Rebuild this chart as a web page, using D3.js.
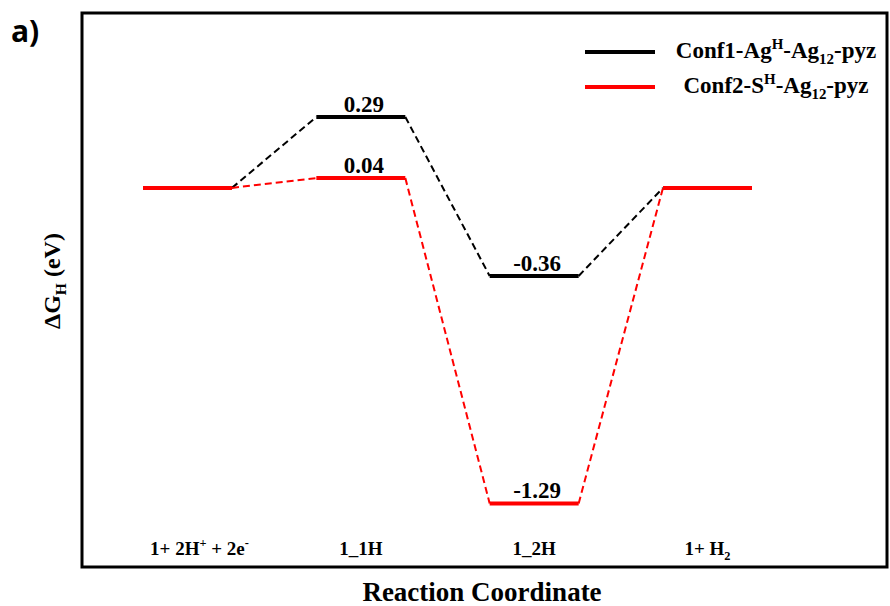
<!DOCTYPE html>
<html>
<head>
<meta charset="utf-8">
<script src="https://cdn.jsdelivr.net/npm/d3@7"></script>
<style>
  body { margin: 0; background: #fff; }
</style>
</head>
<body>
<div id="chart"></div>
<script>
// reaction steps (parts: [text, "sup"|"sub"|undefined])
var steps = ["s0", "s1", "s2", "s3"]
var stepLabels = [
    [["1+ 2H"], ["+", "sup"], [" + 2e"], ["-", "sup"]],
    [["1_1H"]],
    [["1_2H"]],
    [["1+ H"], ["2", "sub"]]
]

// free energies (eV)
var conf1 = [0, 0.29, -0.36, 0]
var conf2 = [0, 0.04, -1.29, 0]
// which levels get a value printed
var showValue = [false, true, true, false]

var seriesNames = [
    [["Conf1-Ag"], ["H", "sup"], ["-Ag"], ["12", "sub"], ["-pyz"]],
    [["Conf2-S"], ["H", "sup"], ["-Ag"], ["12", "sub"], ["-pyz"]]
]
var seriesColors = ["#000000", "#ff0000"]

var W = 890, H = 606
var frame = {left: 82, top: 13, right: 887, bottom: 567}
var serif = "'Liberation Serif', 'Times New Roman', serif"

var svg = d3.select("#chart").append("svg")
    .attr("width", W)
    .attr("height", H)

var x = d3.scalePoint()
    .domain(steps)
    .range([187.5, 707.5])

var y = d3.scaleLinear()
    .domain([-1.55, 0.715])
    .range([frame.bottom, frame.top])

var halfW = 44.5

// write text with sub/superscripts
function richText(sel, parts, size) {
    sel.attr("font-family", serif).attr("font-weight", "bold").attr("font-size", size)
    var shift = 0
    parts.forEach(function (p) {
        var target = 0
        if (p[1] == "sup") target = -size * 0.4
        if (p[1] == "sub") target = size * 0.25
        var t = sel.append("tspan").text(p[0])
            .attr("font-size", p[1] ? size * 0.65 : size)
        if (target != shift) t.attr("dy", target - shift)
        shift = target
    })
}

// frame
svg.append("rect")
    .attr("x", frame.left)
    .attr("y", frame.top)
    .attr("width", frame.right - frame.left)
    .attr("height", frame.bottom - frame.top)
    .attr("fill", "none")
    .attr("stroke", "#000")
    .attr("stroke-width", 3)

var series = [conf1, conf2]

// dashed connectors
series.forEach(function (vals, si) {
    for (var i = 0; i < vals.length - 1; i++) {
        svg.append("line")
            .attr("x1", x(steps[i]) + halfW)
            .attr("y1", y(vals[i]))
            .attr("x2", x(steps[i + 1]) - halfW)
            .attr("y2", y(vals[i + 1]))
            .attr("stroke", seriesColors[si])
            .attr("stroke-width", 2)
            .attr("stroke-dasharray", "7,4")
    }
})

// energy levels
series.forEach(function (vals, si) {
    var pts = vals.map(function (v, i) { return {step: steps[i], v: v, show: showValue[i]} })

    svg.append("g").selectAll("line")
        .data(pts)
        .enter()
        .append("line")
        .attr("x1", function (d) { return x(d.step) - halfW })
        .attr("x2", function (d) { return x(d.step) + halfW })
        .attr("y1", function (d) { return y(d.v) })
        .attr("y2", function (d) { return y(d.v) })
        .attr("stroke", seriesColors[si])
        .attr("stroke-width", 4)

    svg.append("g").selectAll("text")
        .data(pts.filter(function (d) { return d.show }))
        .enter()
        .append("text")
        .attr("x", function (d) { return x(d.step) + 3 })
        .attr("y", function (d) { return y(d.v) - 5 })
        .attr("text-anchor", "middle")
        .attr("font-family", serif)
        .attr("font-weight", "bold")
        .attr("font-size", 23)
        .text(function (d) { return d.v.toFixed(2) })
})

// step labels
stepLabels.forEach(function (parts, i) {
    var t = svg.append("text")
        .attr("x", x(steps[i]) + (i == 0 ? 12 : 0))
        .attr("y", 555)
        .attr("text-anchor", "middle")
    richText(t, parts, 19)
})

// axis titles
var xl = svg.append("text")
    .attr("x", 482)
    .attr("y", 601)
    .attr("text-anchor", "middle")
richText(xl, [["Reaction Coordinate"]], 27)

var yl = svg.append("text")
    .attr("transform", "translate(60,281) rotate(-90)")
    .attr("text-anchor", "middle")
richText(yl, [["\u0394G"], ["H", "sub"], [" (eV)"]], 24)

// panel tag
svg.append("text")
    .attr("x", 11)
    .attr("y", 42)
    .attr("font-family", "'Open Sans', sans-serif")
    .attr("font-weight", "bold")
    .attr("font-size", 30)
    .text("a)")

// legend
seriesNames.forEach(function (parts, i) {
    var ly = 52 + i * 35
    svg.append("line")
        .attr("x1", 585).attr("x2", 655)
        .attr("y1", ly).attr("y2", ly)
        .attr("stroke", seriesColors[i])
        .attr("stroke-width", 4)
    var t = svg.append("text")
        .attr("x", 776)
        .attr("y", ly + 6)
        .attr("text-anchor", "middle")
    richText(t, parts, 23)
})
</script>
</body>
</html>
